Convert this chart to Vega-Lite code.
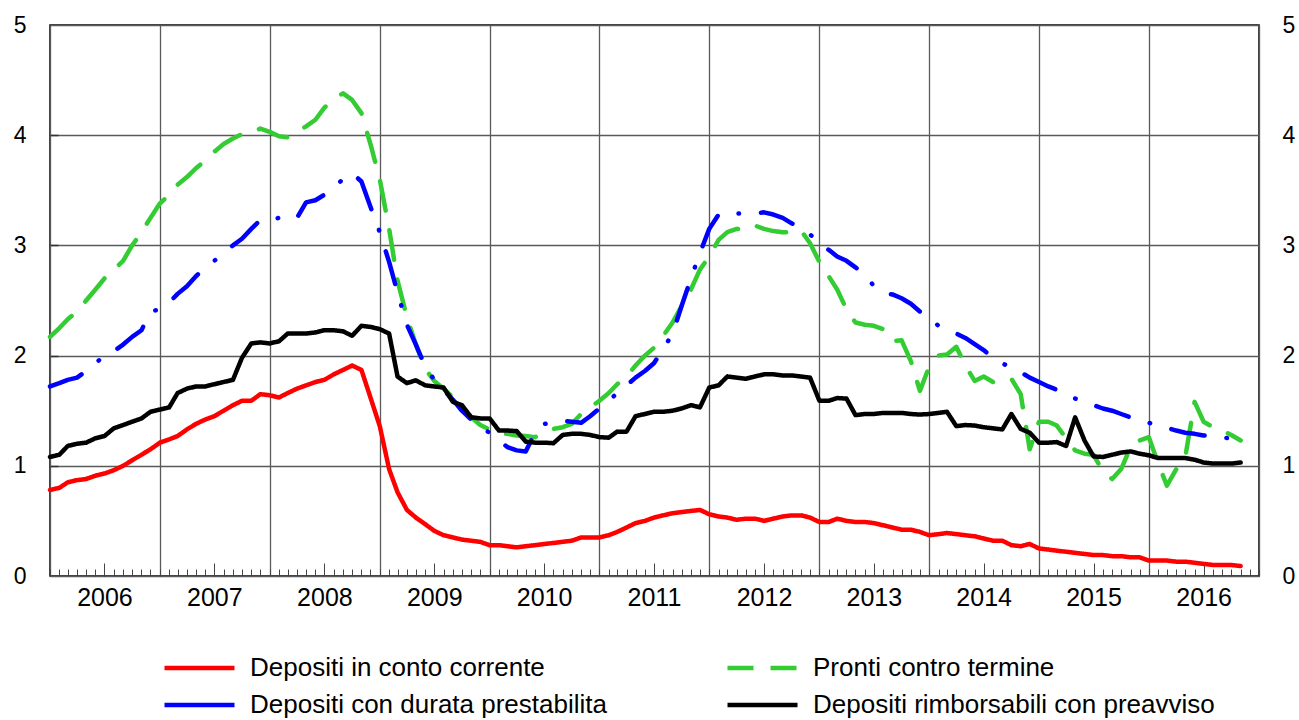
{
"$schema": "https://vega.github.io/schema/vega-lite/v6.json",
"width": 1209, "height": 551,
"autosize": {"type": "none"},
"padding": {"left": 50, "top": 25, "right": 40, "bottom": 144},
"background": "white",
"config": {
  "font": "Liberation Sans",
  "view": {"stroke": "#000", "strokeWidth": 1.5},
  "axis": {"labelFont": "Liberation Sans", "labelColor": "#000", "labelFontSize": 23, "gridColor": "#5a5a5a", "gridWidth": 1.3, "gridOpacity": 1, "tickColor": "#444", "tickWidth": 1, "domain": false}
},
"data": {"values": [
{"mese":"2006-01-01","Depositi in conto corrente":0.78,"Depositi con durata prestabilita":1.72,"Pronti contro termine":2.17,"Depositi rimborsabili con preavviso":1.08},
{"mese":"2006-02-01","Depositi in conto corrente":0.80,"Depositi con durata prestabilita":1.75,"Pronti contro termine":2.25,"Depositi rimborsabili con preavviso":1.10},
{"mese":"2006-03-01","Depositi in conto corrente":0.85,"Depositi con durata prestabilita":1.78,"Pronti contro termine":2.33,"Depositi rimborsabili con preavviso":1.18},
{"mese":"2006-04-01","Depositi in conto corrente":0.87,"Depositi con durata prestabilita":1.80,"Pronti contro termine":2.40,"Depositi rimborsabili con preavviso":1.20},
{"mese":"2006-05-01","Depositi in conto corrente":0.88,"Depositi con durata prestabilita":1.86,"Pronti contro termine":2.50,"Depositi rimborsabili con preavviso":1.21},
{"mese":"2006-06-01","Depositi in conto corrente":0.91,"Depositi con durata prestabilita":1.93,"Pronti contro termine":2.60,"Depositi rimborsabili con preavviso":1.25},
{"mese":"2006-07-01","Depositi in conto corrente":0.93,"Depositi con durata prestabilita":2.00,"Pronti contro termine":2.70,"Depositi rimborsabili con preavviso":1.27},
{"mese":"2006-08-01","Depositi in conto corrente":0.96,"Depositi con durata prestabilita":2.04,"Pronti contro termine":2.78,"Depositi rimborsabili con preavviso":1.34},
{"mese":"2006-09-01","Depositi in conto corrente":1.00,"Depositi con durata prestabilita":2.10,"Pronti contro termine":2.86,"Depositi rimborsabili con preavviso":1.37},
{"mese":"2006-10-01","Depositi in conto corrente":1.05,"Depositi con durata prestabilita":2.17,"Pronti contro termine":3.00,"Depositi rimborsabili con preavviso":1.40},
{"mese":"2006-11-01","Depositi in conto corrente":1.10,"Depositi con durata prestabilita":2.23,"Pronti contro termine":3.12,"Depositi rimborsabili con preavviso":1.43},
{"mese":"2006-12-01","Depositi in conto corrente":1.15,"Depositi con durata prestabilita":2.40,"Pronti contro termine":3.25,"Depositi rimborsabili con preavviso":1.49},
{"mese":"2007-01-01","Depositi in conto corrente":1.21,"Depositi con durata prestabilita":2.42,"Pronti contro termine":3.38,"Depositi rimborsabili con preavviso":1.51},
{"mese":"2007-02-01","Depositi in conto corrente":1.24,"Depositi con durata prestabilita":2.48,"Pronti contro termine":3.46,"Depositi rimborsabili con preavviso":1.53},
{"mese":"2007-03-01","Depositi in conto corrente":1.27,"Depositi con durata prestabilita":2.56,"Pronti contro termine":3.55,"Depositi rimborsabili con preavviso":1.66},
{"mese":"2007-04-01","Depositi in conto corrente":1.33,"Depositi con durata prestabilita":2.63,"Pronti contro termine":3.62,"Depositi rimborsabili con preavviso":1.70},
{"mese":"2007-05-01","Depositi in conto corrente":1.38,"Depositi con durata prestabilita":2.72,"Pronti contro termine":3.70,"Depositi rimborsabili con preavviso":1.72},
{"mese":"2007-06-01","Depositi in conto corrente":1.42,"Depositi con durata prestabilita":2.80,"Pronti contro termine":3.77,"Depositi rimborsabili con preavviso":1.72},
{"mese":"2007-07-01","Depositi in conto corrente":1.45,"Depositi con durata prestabilita":2.86,"Pronti contro termine":3.85,"Depositi rimborsabili con preavviso":1.74},
{"mese":"2007-08-01","Depositi in conto corrente":1.50,"Depositi con durata prestabilita":2.93,"Pronti contro termine":3.92,"Depositi rimborsabili con preavviso":1.76},
{"mese":"2007-09-01","Depositi in conto corrente":1.55,"Depositi con durata prestabilita":3.00,"Pronti contro termine":3.97,"Depositi rimborsabili con preavviso":1.78},
{"mese":"2007-10-01","Depositi in conto corrente":1.59,"Depositi con durata prestabilita":3.06,"Pronti contro termine":4.01,"Depositi rimborsabili con preavviso":1.98},
{"mese":"2007-11-01","Depositi in conto corrente":1.59,"Depositi con durata prestabilita":3.15,"Pronti contro termine":4.02,"Depositi rimborsabili con preavviso":2.11},
{"mese":"2007-12-01","Depositi in conto corrente":1.65,"Depositi con durata prestabilita":3.23,"Pronti contro termine":4.06,"Depositi rimborsabili con preavviso":2.12},
{"mese":"2008-01-01","Depositi in conto corrente":1.64,"Depositi con durata prestabilita":3.23,"Pronti contro termine":4.03,"Depositi rimborsabili con preavviso":2.11},
{"mese":"2008-02-01","Depositi in conto corrente":1.62,"Depositi con durata prestabilita":3.25,"Pronti contro termine":3.99,"Depositi rimborsabili con preavviso":2.13},
{"mese":"2008-03-01","Depositi in conto corrente":1.66,"Depositi con durata prestabilita":3.27,"Pronti contro termine":3.98,"Depositi rimborsabili con preavviso":2.20},
{"mese":"2008-04-01","Depositi in conto corrente":1.70,"Depositi con durata prestabilita":3.25,"Pronti contro termine":4.03,"Depositi rimborsabili con preavviso":2.20},
{"mese":"2008-05-01","Depositi in conto corrente":1.73,"Depositi con durata prestabilita":3.39,"Pronti contro termine":4.08,"Depositi rimborsabili con preavviso":2.20},
{"mese":"2008-06-01","Depositi in conto corrente":1.76,"Depositi con durata prestabilita":3.41,"Pronti contro termine":4.14,"Depositi rimborsabili con preavviso":2.21},
{"mese":"2008-07-01","Depositi in conto corrente":1.78,"Depositi con durata prestabilita":3.46,"Pronti contro termine":4.25,"Depositi rimborsabili con preavviso":2.23},
{"mese":"2008-08-01","Depositi in conto corrente":1.83,"Depositi con durata prestabilita":3.53,"Pronti contro termine":4.33,"Depositi rimborsabili con preavviso":2.23},
{"mese":"2008-09-01","Depositi in conto corrente":1.87,"Depositi con durata prestabilita":3.60,"Pronti contro termine":4.38,"Depositi rimborsabili con preavviso":2.22},
{"mese":"2008-10-01","Depositi in conto corrente":1.91,"Depositi con durata prestabilita":3.655,"Pronti contro termine":4.32,"Depositi rimborsabili con preavviso":2.18},
{"mese":"2008-11-01","Depositi in conto corrente":1.87,"Depositi con durata prestabilita":3.58,"Pronti contro termine":4.20,"Depositi rimborsabili con preavviso":2.27},
{"mese":"2008-12-01","Depositi in conto corrente":1.62,"Depositi con durata prestabilita":3.35,"Pronti contro termine":3.92,"Depositi rimborsabili con preavviso":2.26},
{"mese":"2009-01-01","Depositi in conto corrente":1.36,"Depositi con durata prestabilita":3.12,"Pronti contro termine":3.60,"Depositi rimborsabili con preavviso":2.24},
{"mese":"2009-02-01","Depositi in conto corrente":0.97,"Depositi con durata prestabilita":2.85,"Pronti contro termine":3.15,"Depositi rimborsabili con preavviso":2.20},
{"mese":"2009-03-01","Depositi in conto corrente":0.76,"Depositi con durata prestabilita":2.57,"Pronti contro termine":2.68,"Depositi rimborsabili con preavviso":1.81},
{"mese":"2009-04-01","Depositi in conto corrente":0.60,"Depositi con durata prestabilita":2.28,"Pronti contro termine":2.35,"Depositi rimborsabili con preavviso":1.75},
{"mese":"2009-05-01","Depositi in conto corrente":0.53,"Depositi con durata prestabilita":2.10,"Pronti contro termine":2.10,"Depositi rimborsabili con preavviso":1.775},
{"mese":"2009-06-01","Depositi in conto corrente":0.47,"Depositi con durata prestabilita":1.90,"Pronti contro termine":1.88,"Depositi rimborsabili con preavviso":1.73},
{"mese":"2009-07-01","Depositi in conto corrente":0.41,"Depositi con durata prestabilita":1.78,"Pronti contro termine":1.77,"Depositi rimborsabili con preavviso":1.72},
{"mese":"2009-08-01","Depositi in conto corrente":0.37,"Depositi con durata prestabilita":1.69,"Pronti contro termine":1.70,"Depositi rimborsabili con preavviso":1.71},
{"mese":"2009-09-01","Depositi in conto corrente":0.35,"Depositi con durata prestabilita":1.60,"Pronti contro termine":1.62,"Depositi rimborsabili con preavviso":1.58},
{"mese":"2009-10-01","Depositi in conto corrente":0.33,"Depositi con durata prestabilita":1.50,"Pronti contro termine":1.53,"Depositi rimborsabili con preavviso":1.55},
{"mese":"2009-11-01","Depositi in conto corrente":0.32,"Depositi con durata prestabilita":1.42,"Pronti contro termine":1.44,"Depositi rimborsabili con preavviso":1.44},
{"mese":"2009-12-01","Depositi in conto corrente":0.31,"Depositi con durata prestabilita":1.35,"Pronti contro termine":1.37,"Depositi rimborsabili con preavviso":1.43},
{"mese":"2010-01-01","Depositi in conto corrente":0.28,"Depositi con durata prestabilita":1.30,"Pronti contro termine":1.33,"Depositi rimborsabili con preavviso":1.43},
{"mese":"2010-02-01","Depositi in conto corrente":0.28,"Depositi con durata prestabilita":1.23,"Pronti contro termine":1.30,"Depositi rimborsabili con preavviso":1.32},
{"mese":"2010-03-01","Depositi in conto corrente":0.27,"Depositi con durata prestabilita":1.17,"Pronti contro termine":1.29,"Depositi rimborsabili con preavviso":1.32},
{"mese":"2010-04-01","Depositi in conto corrente":0.26,"Depositi con durata prestabilita":1.14,"Pronti contro termine":1.275,"Depositi rimborsabili con preavviso":1.315},
{"mese":"2010-05-01","Depositi in conto corrente":0.27,"Depositi con durata prestabilita":1.13,"Pronti contro termine":1.27,"Depositi rimborsabili con preavviso":1.22},
{"mese":"2010-06-01","Depositi in conto corrente":0.28,"Depositi con durata prestabilita":1.30,"Pronti contro termine":1.26,"Depositi rimborsabili con preavviso":1.21},
{"mese":"2010-07-01","Depositi in conto corrente":0.29,"Depositi con durata prestabilita":1.38,"Pronti contro termine":1.30,"Depositi rimborsabili con preavviso":1.21},
{"mese":"2010-08-01","Depositi in conto corrente":0.30,"Depositi con durata prestabilita":1.39,"Pronti contro termine":1.335,"Depositi rimborsabili con preavviso":1.205},
{"mese":"2010-09-01","Depositi in conto corrente":0.31,"Depositi con durata prestabilita":1.41,"Pronti contro termine":1.35,"Depositi rimborsabili con preavviso":1.28},
{"mese":"2010-10-01","Depositi in conto corrente":0.32,"Depositi con durata prestabilita":1.40,"Pronti contro termine":1.38,"Depositi rimborsabili con preavviso":1.29},
{"mese":"2010-11-01","Depositi in conto corrente":0.35,"Depositi con durata prestabilita":1.39,"Pronti contro termine":1.47,"Depositi rimborsabili con preavviso":1.29},
{"mese":"2010-12-01","Depositi in conto corrente":0.35,"Depositi con durata prestabilita":1.45,"Pronti contro termine":1.53,"Depositi rimborsabili con preavviso":1.28},
{"mese":"2011-01-01","Depositi in conto corrente":0.35,"Depositi con durata prestabilita":1.52,"Pronti contro termine":1.59,"Depositi rimborsabili con preavviso":1.26},
{"mese":"2011-02-01","Depositi in conto corrente":0.37,"Depositi con durata prestabilita":1.59,"Pronti contro termine":1.66,"Depositi rimborsabili con preavviso":1.255},
{"mese":"2011-03-01","Depositi in conto corrente":0.40,"Depositi con durata prestabilita":1.66,"Pronti contro termine":1.74,"Depositi rimborsabili con preavviso":1.31},
{"mese":"2011-04-01","Depositi in conto corrente":0.44,"Depositi con durata prestabilita":1.73,"Pronti contro termine":1.81,"Depositi rimborsabili con preavviso":1.31},
{"mese":"2011-05-01","Depositi in conto corrente":0.48,"Depositi con durata prestabilita":1.80,"Pronti contro termine":1.91,"Depositi rimborsabili con preavviso":1.45},
{"mese":"2011-06-01","Depositi in conto corrente":0.50,"Depositi con durata prestabilita":1.86,"Pronti contro termine":2.00,"Depositi rimborsabili con preavviso":1.47},
{"mese":"2011-07-01","Depositi in conto corrente":0.53,"Depositi con durata prestabilita":1.93,"Pronti contro termine":2.07,"Depositi rimborsabili con preavviso":1.49},
{"mese":"2011-08-01","Depositi in conto corrente":0.55,"Depositi con durata prestabilita":2.06,"Pronti contro termine":2.18,"Depositi rimborsabili con preavviso":1.49},
{"mese":"2011-09-01","Depositi in conto corrente":0.57,"Depositi con durata prestabilita":2.20,"Pronti contro termine":2.30,"Depositi rimborsabili con preavviso":1.50},
{"mese":"2011-10-01","Depositi in conto corrente":0.58,"Depositi con durata prestabilita":2.45,"Pronti contro termine":2.45,"Depositi rimborsabili con preavviso":1.52},
{"mese":"2011-11-01","Depositi in conto corrente":0.59,"Depositi con durata prestabilita":2.70,"Pronti contro termine":2.60,"Depositi rimborsabili con preavviso":1.55},
{"mese":"2011-12-01","Depositi in conto corrente":0.60,"Depositi con durata prestabilita":2.93,"Pronti contro termine":2.78,"Depositi rimborsabili con preavviso":1.53},
{"mese":"2012-01-01","Depositi in conto corrente":0.56,"Depositi con durata prestabilita":3.15,"Pronti contro termine":2.90,"Depositi rimborsabili con preavviso":1.71},
{"mese":"2012-02-01","Depositi in conto corrente":0.54,"Depositi con durata prestabilita":3.28,"Pronti contro termine":3.05,"Depositi rimborsabili con preavviso":1.73},
{"mese":"2012-03-01","Depositi in conto corrente":0.53,"Depositi con durata prestabilita":3.30,"Pronti contro termine":3.12,"Depositi rimborsabili con preavviso":1.81},
{"mese":"2012-04-01","Depositi in conto corrente":0.51,"Depositi con durata prestabilita":3.29,"Pronti contro termine":3.15,"Depositi rimborsabili con preavviso":1.80},
{"mese":"2012-05-01","Depositi in conto corrente":0.52,"Depositi con durata prestabilita":3.29,"Pronti contro termine":3.14,"Depositi rimborsabili con preavviso":1.79},
{"mese":"2012-06-01","Depositi in conto corrente":0.52,"Depositi con durata prestabilita":3.29,"Pronti contro termine":3.18,"Depositi rimborsabili con preavviso":1.81},
{"mese":"2012-07-01","Depositi in conto corrente":0.50,"Depositi con durata prestabilita":3.30,"Pronti contro termine":3.15,"Depositi rimborsabili con preavviso":1.83},
{"mese":"2012-08-01","Depositi in conto corrente":0.52,"Depositi con durata prestabilita":3.28,"Pronti contro termine":3.13,"Depositi rimborsabili con preavviso":1.83},
{"mese":"2012-09-01","Depositi in conto corrente":0.54,"Depositi con durata prestabilita":3.25,"Pronti contro termine":3.12,"Depositi rimborsabili con preavviso":1.82},
{"mese":"2012-10-01","Depositi in conto corrente":0.55,"Depositi con durata prestabilita":3.20,"Pronti contro termine":3.12,"Depositi rimborsabili con preavviso":1.82},
{"mese":"2012-11-01","Depositi in conto corrente":0.55,"Depositi con durata prestabilita":3.16,"Pronti contro termine":3.135,"Depositi rimborsabili con preavviso":1.81},
{"mese":"2012-12-01","Depositi in conto corrente":0.53,"Depositi con durata prestabilita":3.10,"Pronti contro termine":3.02,"Depositi rimborsabili con preavviso":1.80},
{"mese":"2013-01-01","Depositi in conto corrente":0.49,"Depositi con durata prestabilita":3.02,"Pronti contro termine":2.85,"Depositi rimborsabili con preavviso":1.59},
{"mese":"2013-02-01","Depositi in conto corrente":0.49,"Depositi con durata prestabilita":2.96,"Pronti contro termine":2.72,"Depositi rimborsabili con preavviso":1.59},
{"mese":"2013-03-01","Depositi in conto corrente":0.52,"Depositi con durata prestabilita":2.90,"Pronti contro termine":2.60,"Depositi rimborsabili con preavviso":1.615},
{"mese":"2013-04-01","Depositi in conto corrente":0.50,"Depositi con durata prestabilita":2.86,"Pronti contro termine":2.42,"Depositi rimborsabili con preavviso":1.61},
{"mese":"2013-05-01","Depositi in conto corrente":0.49,"Depositi con durata prestabilita":2.80,"Pronti contro termine":2.30,"Depositi rimborsabili con preavviso":1.46},
{"mese":"2013-06-01","Depositi in conto corrente":0.49,"Depositi con durata prestabilita":2.74,"Pronti contro termine":2.28,"Depositi rimborsabili con preavviso":1.47},
{"mese":"2013-07-01","Depositi in conto corrente":0.48,"Depositi con durata prestabilita":2.63,"Pronti contro termine":2.27,"Depositi rimborsabili con preavviso":1.47},
{"mese":"2013-08-01","Depositi in conto corrente":0.46,"Depositi con durata prestabilita":2.57,"Pronti contro termine":2.24,"Depositi rimborsabili con preavviso":1.48},
{"mese":"2013-09-01","Depositi in conto corrente":0.44,"Depositi con durata prestabilita":2.555,"Pronti contro termine":2.13,"Depositi rimborsabili con preavviso":1.48},
{"mese":"2013-10-01","Depositi in conto corrente":0.42,"Depositi con durata prestabilita":2.52,"Pronti contro termine":2.14,"Depositi rimborsabili con preavviso":1.48},
{"mese":"2013-11-01","Depositi in conto corrente":0.42,"Depositi con durata prestabilita":2.47,"Pronti contro termine":1.95,"Depositi rimborsabili con preavviso":1.47},
{"mese":"2013-12-01","Depositi in conto corrente":0.40,"Depositi con durata prestabilita":2.40,"Pronti contro termine":1.68,"Depositi rimborsabili con preavviso":1.465},
{"mese":"2014-01-01","Depositi in conto corrente":0.37,"Depositi con durata prestabilita":2.34,"Pronti contro termine":1.90,"Depositi rimborsabili con preavviso":1.47},
{"mese":"2014-02-01","Depositi in conto corrente":0.38,"Depositi con durata prestabilita":2.27,"Pronti contro termine":2.00,"Depositi rimborsabili con preavviso":1.48},
{"mese":"2014-03-01","Depositi in conto corrente":0.39,"Depositi con durata prestabilita":2.23,"Pronti contro termine":2.01,"Depositi rimborsabili con preavviso":1.49},
{"mese":"2014-04-01","Depositi in conto corrente":0.38,"Depositi con durata prestabilita":2.20,"Pronti contro termine":2.08,"Depositi rimborsabili con preavviso":1.36},
{"mese":"2014-05-01","Depositi in conto corrente":0.37,"Depositi con durata prestabilita":2.16,"Pronti contro termine":1.91,"Depositi rimborsabili con preavviso":1.37},
{"mese":"2014-06-01","Depositi in conto corrente":0.36,"Depositi con durata prestabilita":2.105,"Pronti contro termine":1.77,"Depositi rimborsabili con preavviso":1.365},
{"mese":"2014-07-01","Depositi in conto corrente":0.34,"Depositi con durata prestabilita":2.05,"Pronti contro termine":1.81,"Depositi rimborsabili con preavviso":1.35},
{"mese":"2014-08-01","Depositi in conto corrente":0.32,"Depositi con durata prestabilita":1.98,"Pronti contro termine":1.76,"Depositi rimborsabili con preavviso":1.34},
{"mese":"2014-09-01","Depositi in conto corrente":0.32,"Depositi con durata prestabilita":1.93,"Pronti contro termine":1.78,"Depositi rimborsabili con preavviso":1.33},
{"mese":"2014-10-01","Depositi in conto corrente":0.28,"Depositi con durata prestabilita":1.89,"Pronti contro termine":1.79,"Depositi rimborsabili con preavviso":1.47},
{"mese":"2014-11-01","Depositi in conto corrente":0.27,"Depositi con durata prestabilita":1.85,"Pronti contro termine":1.65,"Depositi rimborsabili con preavviso":1.335},
{"mese":"2014-12-01","Depositi in conto corrente":0.29,"Depositi con durata prestabilita":1.80,"Pronti contro termine":1.15,"Depositi rimborsabili con preavviso":1.30},
{"mese":"2015-01-01","Depositi in conto corrente":0.25,"Depositi con durata prestabilita":1.76,"Pronti contro termine":1.40,"Depositi rimborsabili con preavviso":1.21},
{"mese":"2015-02-01","Depositi in conto corrente":0.24,"Depositi con durata prestabilita":1.72,"Pronti contro termine":1.40,"Depositi rimborsabili con preavviso":1.21},
{"mese":"2015-03-01","Depositi in conto corrente":0.23,"Depositi con durata prestabilita":1.69,"Pronti contro termine":1.365,"Depositi rimborsabili con preavviso":1.215},
{"mese":"2015-04-01","Depositi in conto corrente":0.22,"Depositi con durata prestabilita":1.65,"Pronti contro termine":1.25,"Depositi rimborsabili con preavviso":1.18},
{"mese":"2015-05-01","Depositi in conto corrente":0.21,"Depositi con durata prestabilita":1.61,"Pronti contro termine":1.14,"Depositi rimborsabili con preavviso":1.44},
{"mese":"2015-06-01","Depositi in conto corrente":0.20,"Depositi con durata prestabilita":1.58,"Pronti contro termine":1.11,"Depositi rimborsabili con preavviso":1.23},
{"mese":"2015-07-01","Depositi in conto corrente":0.19,"Depositi con durata prestabilita":1.55,"Pronti contro termine":1.10,"Depositi rimborsabili con preavviso":1.085},
{"mese":"2015-08-01","Depositi in conto corrente":0.19,"Depositi con durata prestabilita":1.52,"Pronti contro termine":0.95,"Depositi rimborsabili con preavviso":1.08},
{"mese":"2015-09-01","Depositi in conto corrente":0.18,"Depositi con durata prestabilita":1.50,"Pronti contro termine":0.88,"Depositi rimborsabili con preavviso":1.10},
{"mese":"2015-10-01","Depositi in conto corrente":0.18,"Depositi con durata prestabilita":1.47,"Pronti contro termine":0.97,"Depositi rimborsabili con preavviso":1.12},
{"mese":"2015-11-01","Depositi in conto corrente":0.17,"Depositi con durata prestabilita":1.44,"Pronti contro termine":1.17,"Depositi rimborsabili con preavviso":1.13},
{"mese":"2015-12-01","Depositi in conto corrente":0.17,"Depositi con durata prestabilita":1.41,"Pronti contro termine":1.23,"Depositi rimborsabili con preavviso":1.11},
{"mese":"2016-01-01","Depositi in conto corrente":0.14,"Depositi con durata prestabilita":1.39,"Pronti contro termine":1.26,"Depositi rimborsabili con preavviso":1.095},
{"mese":"2016-02-01","Depositi in conto corrente":0.14,"Depositi con durata prestabilita":1.37,"Pronti contro termine":1.02,"Depositi rimborsabili con preavviso":1.07},
{"mese":"2016-03-01","Depositi in conto corrente":0.14,"Depositi con durata prestabilita":1.345,"Pronti contro termine":0.82,"Depositi rimborsabili con preavviso":1.07},
{"mese":"2016-04-01","Depositi in conto corrente":0.13,"Depositi con durata prestabilita":1.32,"Pronti contro termine":0.97,"Depositi rimborsabili con preavviso":1.07},
{"mese":"2016-05-01","Depositi in conto corrente":0.13,"Depositi con durata prestabilita":1.30,"Pronti contro termine":1.08,"Depositi rimborsabili con preavviso":1.07},
{"mese":"2016-06-01","Depositi in conto corrente":0.12,"Depositi con durata prestabilita":1.29,"Pronti contro termine":1.58,"Depositi rimborsabili con preavviso":1.055},
{"mese":"2016-07-01","Depositi in conto corrente":0.11,"Depositi con durata prestabilita":1.275,"Pronti contro termine":1.40,"Depositi rimborsabili con preavviso":1.03},
{"mese":"2016-08-01","Depositi in conto corrente":0.10,"Depositi con durata prestabilita":1.27,"Pronti contro termine":1.35,"Depositi rimborsabili con preavviso":1.02},
{"mese":"2016-09-01","Depositi in conto corrente":0.10,"Depositi con durata prestabilita":1.26,"Pronti contro termine":1.32,"Depositi rimborsabili con preavviso":1.02},
{"mese":"2016-10-01","Depositi in conto corrente":0.10,"Depositi con durata prestabilita":1.245,"Pronti contro termine":1.28,"Depositi rimborsabili con preavviso":1.02},
{"mese":"2016-11-01","Depositi in conto corrente":0.09,"Depositi con durata prestabilita":1.235,"Pronti contro termine":1.23,"Depositi rimborsabili con preavviso":1.03}
]},
"transform": [
  {"fold": ["Depositi in conto corrente", "Pronti contro termine", "Depositi con durata prestabilita", "Depositi rimborsabili con preavviso"], "as": ["serie", "valore"]},
  {"lookup": "serie", "from": {"data": {"values": [
    {"serie": "Depositi in conto corrente", "tratto": "continuo"},
    {"serie": "Pronti contro termine", "tratto": "tratteggiato"},
    {"serie": "Depositi con durata prestabilita", "tratto": "tratto-punto"},
    {"serie": "Depositi rimborsabili con preavviso", "tratto": "continuo"}
  ]}, "key": "serie", "fields": ["tratto"]}}
],
"layer": [
  {
    "mark": {"type": "line", "strokeWidth": 4.5, "strokeCap": "round", "strokeJoin": "round"},
    "encoding": {
      "x": {"field": "mese", "type": "temporal",
        "scale": {"type": "utc", "domain": [{"year": 2006, "month": 1, "date": 1, "utc": true}, {"year": 2017, "month": 1, "date": 1, "utc": true}]},
        "axis": {"orient": "bottom", "title": null, "grid": true, "ticks": false, "labels": false, "tickCount": {"interval": "year", "step": 1}}},
      "y": {"field": "valore", "type": "quantitative",
        "scale": {"domain": [0, 5], "nice": false},
        "axis": {"orient": "left", "title": null, "grid": true, "ticks": false, "values": [0, 1, 2, 3, 4, 5], "labelPadding": 24}},
      "color": {"field": "serie", "type": "nominal",
        "scale": {"domain": ["Depositi in conto corrente", "Depositi con durata prestabilita", "Pronti contro termine", "Depositi rimborsabili con preavviso"], "range": ["#ff0000", "#0000ff", "#33cc33", "#000000"]},
        "legend": {"orient": "none", "legendX": 112, "legendY": 630, "columns": 2, "title": null, "symbolType": "stroke", "symbolSize": 4900, "symbolStrokeWidth": 4.5, "labelFontSize": 26, "labelFont": "Liberation Sans", "labelColor": "#000", "labelLimit": 0, "labelOffset": 13, "columnPadding": 118, "rowPadding": 11, "clipHeight": 26, "padding": 0,
          "encode": {"symbols": {"update": {"strokeDash": {"signal": "datum.value === 'Pronti contro termine' ? [26, 17] : [1, 0]"}}}}}},
      "strokeDash": {"field": "tratto", "type": "nominal",
        "scale": {"domain": ["continuo", "tratteggiato", "tratto-punto"], "range": [[1, 0], [30, 20], [34, 22, 0.5, 22]]},
        "legend": null}
    }
  },
  {
    "mark": {"type": "point", "opacity": 0},
    "encoding": {
      "x": {"field": "mese", "type": "temporal",
        "axis": {"orient": "bottom", "title": null, "grid": false, "ticks": false, "labelPadding": 9, "labelFontSize": 25,
          "values": [{"year": 2006, "month": 7, "date": 1, "utc": true}, {"year": 2007, "month": 7, "date": 1, "utc": true}, {"year": 2008, "month": 7, "date": 1, "utc": true}, {"year": 2009, "month": 7, "date": 1, "utc": true}, {"year": 2010, "month": 7, "date": 1, "utc": true}, {"year": 2011, "month": 7, "date": 1, "utc": true}, {"year": 2012, "month": 7, "date": 1, "utc": true}, {"year": 2013, "month": 7, "date": 1, "utc": true}, {"year": 2014, "month": 7, "date": 1, "utc": true}, {"year": 2015, "month": 7, "date": 1, "utc": true}, {"year": 2016, "month": 7, "date": 1, "utc": true}],
          "labelExpr": "utcFormat(datum.value, '%Y')"}},
      "y": {"field": "valore", "type": "quantitative",
        "axis": {"orient": "right", "title": null, "grid": false, "ticks": false, "values": [0, 1, 2, 3, 4, 5], "labelPadding": 23}}
    }
  },
  {
    "mark": {"type": "point", "opacity": 0},
    "encoding": {
      "x": {"field": "mese", "type": "temporal",
        "axis": {"orient": "bottom", "title": null, "grid": false, "labels": false, "ticks": true, "tickSize": -7, "tickCount": {"interval": "month", "step": 1}}},
      "y": {"field": "valore", "type": "quantitative",
        "axis": {"orient": "left", "title": null, "grid": false, "labels": false, "ticks": true, "tickSize": -8, "tickColor": "#333", "tickWidth": 1.5, "values": [1, 2, 3, 4]}}
    }
  },
  {
    "mark": {"type": "point", "opacity": 0},
    "encoding": {
      "x": {"field": "mese", "type": "temporal",
        "axis": {"orient": "bottom", "title": null, "grid": false, "labels": false, "ticks": true, "tickSize": -13,
          "values": [{"year": 2006, "month": 7, "date": 1, "utc": true}, {"year": 2007, "month": 7, "date": 1, "utc": true}, {"year": 2008, "month": 7, "date": 1, "utc": true}, {"year": 2009, "month": 7, "date": 1, "utc": true}, {"year": 2010, "month": 7, "date": 1, "utc": true}, {"year": 2011, "month": 7, "date": 1, "utc": true}, {"year": 2012, "month": 7, "date": 1, "utc": true}, {"year": 2013, "month": 7, "date": 1, "utc": true}, {"year": 2014, "month": 7, "date": 1, "utc": true}, {"year": 2015, "month": 7, "date": 1, "utc": true}, {"year": 2016, "month": 7, "date": 1, "utc": true}]}},
      "y": {"field": "valore", "type": "quantitative", "axis": null}
    }
  }
],
"resolve": {"axis": {"x": "independent", "y": "independent"}}
}
